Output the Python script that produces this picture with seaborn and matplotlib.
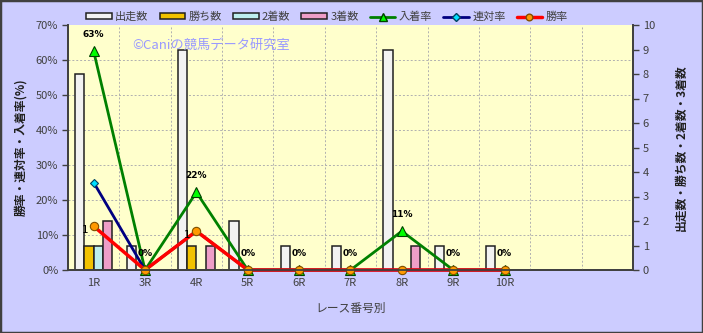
import numpy as np
import pandas as pd
import matplotlib
matplotlib.use("Agg")
import matplotlib.pyplot as plt
import seaborn as sns
from matplotlib.patches import Patch, Rectangle
from matplotlib.lines import Line2D

# ---- data ----
races = ['1R', '3R', '4R', '5R', '6R', '7R', '8R', '9R', '10R']
starts = [8, 1, 9, 2, 1, 1, 9, 1, 1]
wins = [1, 0, 1, 0, 0, 0, 0, 0, 0]
seconds = [1, 0, 0, 0, 0, 0, 0, 0, 0]
thirds = [2, 0, 1, 0, 0, 0, 1, 0, 0]
place_rate = [62.5, 0, 22.2, 0, 0, 0, 11.1, 0, 0]
quinella_rate = [25.0, 0, 11.1, 0, 0, 0, 0, 0, 0]
win_rate = [12.5, 0, 11.1, 0, 0, 0, 0, 0, 0]
place_labels = ['63%', '0%', '22%', '0%', '0%', '0%', '11%', '0%', '0%']
win_labels = ['1', '', '1', '', '', '', '', '', '']
bar_series = ['出走数', '勝ち数', '2着数', '3着数']
line_series = ['入着率', '連対率', '勝率']
n_slots = 11
left_ticks = [0, 10, 20, 30, 40, 50, 60, 70]
right_ticks = list(range(0, 11))

sns.set_theme(style="white")
plt.rcParams['font.family'] = ['Noto Sans CJK JP', 'DejaVu Sans']

bar_colors = ['#f2f2f2', '#f2c200', '#bdeeee', '#ee9ec8']
text_col = '#404040'

df = pd.DataFrame({
    'race': races * 4,
    'series': sum([[s] * len(races) for s in bar_series], []),
    'count': starts + wins + seconds + thirds,
})

fig = plt.figure(figsize=(7.03, 3.33), dpi=100)
fig.patch.set_facecolor('#ccccff')
ax = fig.add_axes([68 / 703, 1 - 270 / 333, 565 / 703, 245 / 333])
ax2 = ax.twinx()

# background on lower (bar) axis
ax2.patch.set_visible(True)
ax2.patch.set_facecolor('#ffffcc')
ax.set_zorder(ax2.get_zorder() + 1)
ax.patch.set_visible(False)

sns.barplot(data=df, x='race', y='count', hue='series', order=races,
            hue_order=bar_series, palette=bar_colors, width=0.72,
            edgecolor='#202020', linewidth=1.1, ax=ax2, legend=False,
            saturation=1)

ax2.set_ylim(0, 10)
ax2.set_yticks(right_ticks)
ax2.set_yticks(np.linspace(0, 10, len(left_ticks)), minor=True)
ax2.grid(which='minor', axis='y', color='#b0b0b0', linestyle=(0, (2, 2)), linewidth=0.7)
ax2.grid(which='major', axis='y', visible=False)
ax2.tick_params(axis='y', which='minor', length=0)
ax2.tick_params(axis='y', which='major', length=4, width=1, color=text_col,
                labelsize=8, labelcolor=text_col, direction='out', pad=3, right=True)
ax2.set_ylabel('出走数・勝ち数・2着数・3着数', fontsize=8.5, color='#202020',
               rotation=90, labelpad=14, fontweight='bold')
ax2.set_xlabel('')

xs = np.arange(len(races))
line_styles = [
    dict(color='#008000', marker='^', mfc='#00ff00', mec='#004000', ms=7, lw=2.0),
    dict(color='#000080', marker='D', mfc='#00e0ff', mec='#004060', ms=4.5, lw=2.0),
    dict(color='#ff0000', marker='o', mfc='#ff9900', mec='#805000', ms=6, lw=2.5),
]
for vals, st in zip([place_rate, quinella_rate, win_rate], line_styles):
    sns.lineplot(x=xs, y=vals, ax=ax, color=st['color'], marker=st['marker'],
                 markerfacecolor=st['mfc'], markeredgecolor=st['mec'],
                 markersize=st['ms'], linewidth=st['lw'], clip_on=False,
                 markeredgewidth=0.8, legend=False)

for x, v, lab in zip(xs, place_rate, place_labels):
    ax.annotate(lab, (x, v), xytext=(0, 12), textcoords='offset points',
                ha='center', va='center', fontsize=6.5, fontweight='bold',
                color='black', family='DejaVu Sans')
for x, v, lab in zip(xs, win_rate, win_labels):
    if lab:
        ax.annotate(lab, (x, v), xytext=(-4, -3), textcoords='offset points',
                    ha='right', va='center', fontsize=7.5, color='black',
                    family='DejaVu Sans')

ax.set_xlim(-0.5, n_slots - 0.5)
ax.set_ylim(0, 70)
ax.set_yticks(left_ticks)
ax.set_yticklabels([f'{t}%' for t in left_ticks])
ax.set_xticks(xs)
ax.set_xticklabels(races)
ax.set_xticks(np.arange(0.5, n_slots - 0.5, 1), minor=True)
ax.grid(which='minor', axis='x', color='#b0b0b0', linestyle=(0, (2, 2)), linewidth=0.7)
ax.grid(which='major', visible=False)
ax.tick_params(axis='x', which='both', length=0, labelsize=8, labelcolor=text_col, pad=6)
ax.tick_params(axis='y', length=4, width=1, color=text_col, labelsize=8,
               labelcolor=text_col, direction='out', left=True, pad=3)
ax.set_ylabel('勝率・連対率・入着率(%)', fontsize=8.5, color='#202020',
              fontweight='bold', labelpad=6)
ax.set_xlabel('レース番号別', fontsize=8.5, color=text_col, labelpad=10)

for a in (ax, ax2):
    a.spines['top'].set_visible(False)
    for s in ('left', 'right', 'bottom'):
        a.spines[s].set_color('#404040')
        a.spines[s].set_linewidth(1.3)

# watermark
fig.text(132 / 703, 1 - 45 / 333, '©Caniの競馬データ研究室', fontsize=9.5,
         color='#9999ff', ha='left', va='center')

# legend
handles = [Patch(facecolor=c, edgecolor='#202020', linewidth=1.1) for c in bar_colors]
for st in line_styles:
    handles.append(Line2D([0], [0], color=st['color'], marker=st['marker'],
                          markerfacecolor=st['mfc'], markeredgecolor=st['mec'],
                          markersize=st['ms'] * 0.8, linewidth=st['lw']))
leg = fig.legend(handles, bar_series + line_series, loc='center',
                 bbox_to_anchor=(327 / 703, 1 - 17 / 333), ncol=7, frameon=False,
                 fontsize=8, handlelength=2.3, handleheight=0.5, handletextpad=0.3,
                 columnspacing=1.0, borderaxespad=0)
for t in leg.get_texts():
    t.set_color(text_col)

fig.patches.append(Rectangle((0, 0), 1, 1, transform=fig.transFigure, fill=False,
                             edgecolor='#404040', linewidth=2.5, zorder=10))

fig.savefig('out.png', dpi=100, facecolor=fig.get_facecolor())
